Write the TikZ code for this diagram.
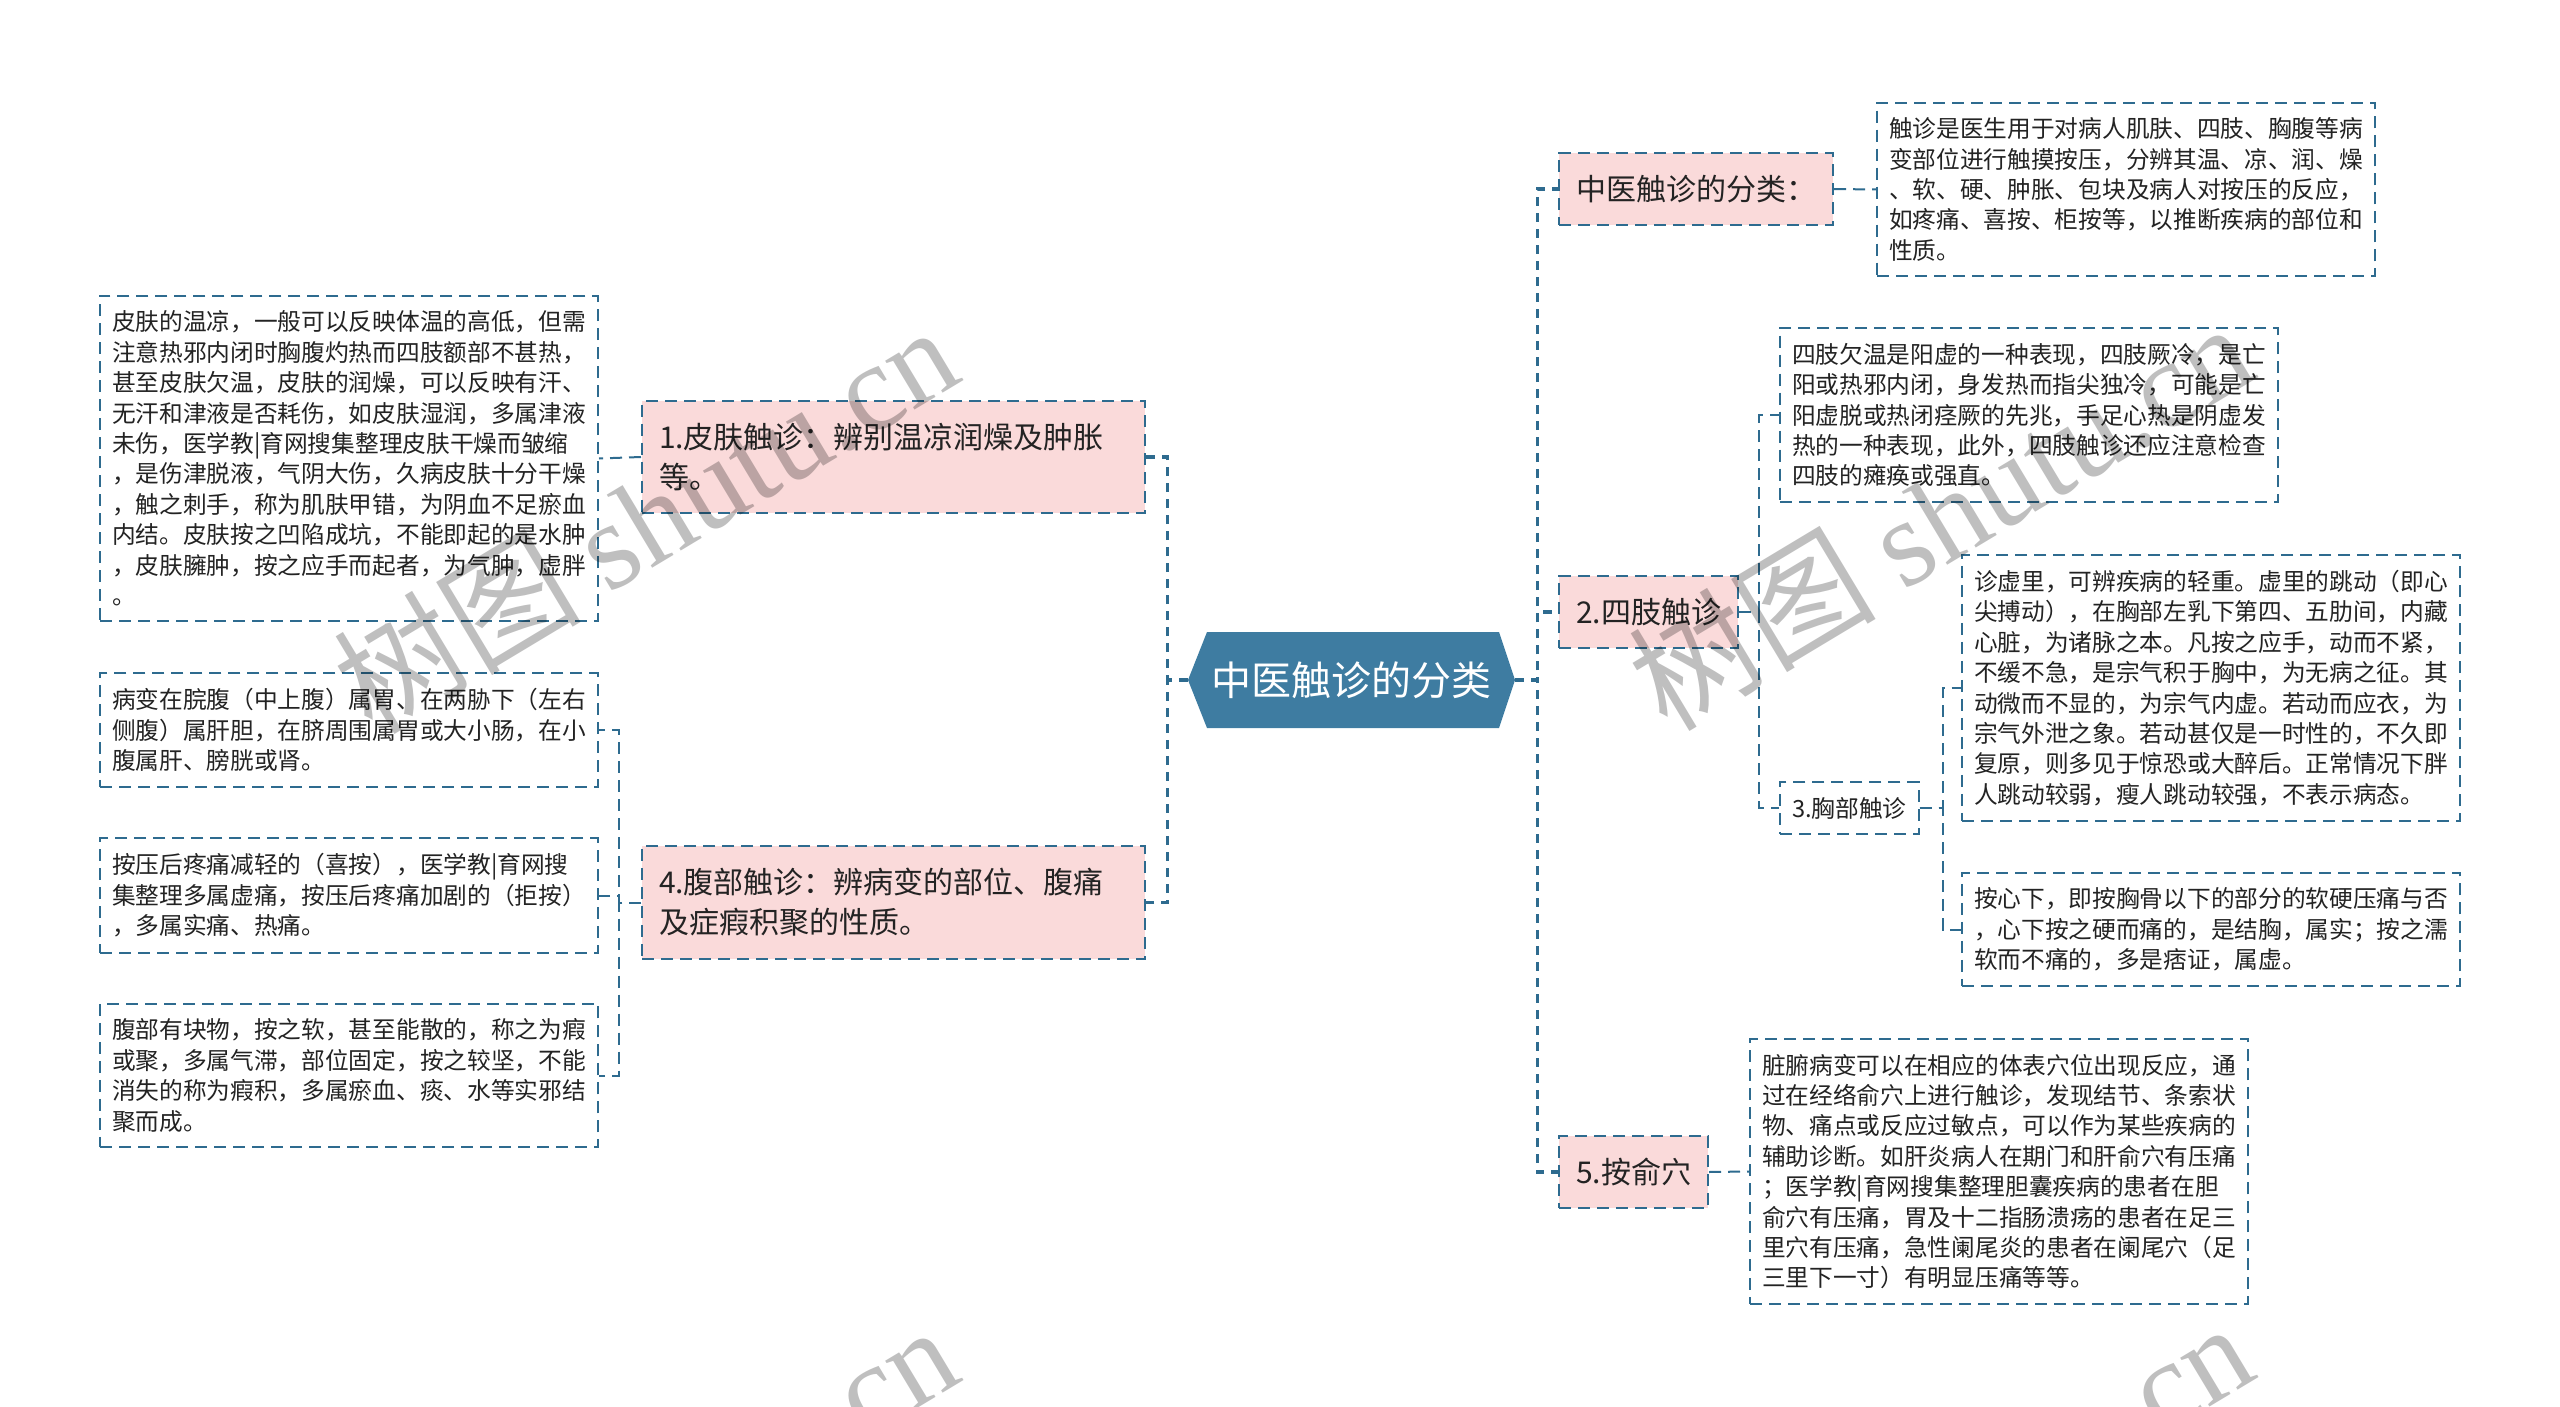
\documentclass[tikz,border=0pt]{standalone}
\usepackage{fontspec}
\setmainfont{Noto Sans CJK SC}
\newfontfamily\wmlatin{Liberation Serif}
\usetikzlibrary{positioning}
\definecolor{linkblue}{RGB}{46,107,143}
\definecolor{rootblue}{RGB}{62,124,161}
\definecolor{branchpink}{RGB}{250,218,218}
\definecolor{inkgray}{RGB}{35,35,35}
\newcommand{\wmark}{树图 {\wmlatin shutu.cn}}

\begin{document}
\begin{tikzpicture}[x=0.5pt,y=-0.5pt,
    note/.style={draw=linkblue,line width=1pt,dash pattern=on 6pt off 3.5pt,fill=white,text=inkgray,
        font=\fontsize{11.85}{15.2}\selectfont,text width=237pt,align=left,inner xsep=6pt,inner ysep=7.6pt},
    tag/.style={draw=linkblue,line width=1pt,dash pattern=on 6pt off 3.5pt,fill=white,text=inkgray,
        font=\fontsize{11.85}{15.2}\selectfont,inner xsep=6pt,inner ysep=7.6pt},
    branch/.style={draw=linkblue,line width=1pt,dash pattern=on 6pt off 3.5pt,fill=branchpink,text=inkgray,
        font=\fontsize{15}{20}\selectfont,align=left,inner xsep=8.5pt,inner ysep=11pt},
    hexroot/.style={minimum width=163.5pt,minimum height=48pt,inner sep=0pt,text=white,
        font=\fontsize{20}{24}\selectfont,
        path picture={\fill[rootblue] (path picture bounding box.west)
            -- ([xshift=9.5pt]path picture bounding box.north west)
            -- ([xshift=-8pt]path picture bounding box.north east)
            -- (path picture bounding box.east)
            -- ([xshift=-8pt]path picture bounding box.south east)
            -- ([xshift=9.5pt]path picture bounding box.south west) -- cycle;}},
    trunk/.style={draw=linkblue,line width=1.7pt,dash pattern=on 4.5pt off 3.5pt},
    twig/.style={draw=linkblue,line width=1pt,dash pattern=on 6pt off 3.5pt},
    wm/.style={rotate=31,text=black,opacity=0.25,font=\fontsize{62}{62}\selectfont}
]
\useasboundingbox (0,0) rectangle (2560,1407);

\node[hexroot] (root) at (1351.5,680) {中医触诊的分类};

\node[branch,text width=234.5pt] (skin) at (893.5,457) {1.皮肤触诊：辨别温凉润燥及肿胀\\等。};
\node[branch,text width=234.5pt] (belly) at (893.5,902.5) {4.腹部触诊：辨病变的部位、腹痛\\及症瘕积聚的性质。};

\node[note,anchor=east] (skinnote) at (599,458.5) {皮肤的温凉，一般可以反映体温的高低，但需\\注意热邪内闭时胸腹灼热而四肢额部不甚热，\\甚至皮肤欠温，皮肤的润燥，可以反映有汗、\\无汗和津液是否耗伤，如皮肤湿润，多属津液\\未伤，医学教|育网搜集整理皮肤干燥而皱缩\\，是伤津脱液，气阴大伤，久病皮肤十分干燥\\，触之刺手，称为肌肤甲错，为阴血不足瘀血\\内结。皮肤按之凹陷成坑，不能即起的是水肿\\，皮肤臃肿，按之应手而起者，为气肿，虚胖\\。};
\node[note,anchor=east] (bellyzone) at (599,730) {病变在脘腹（中上腹）属胃、在两胁下（左右\\侧腹）属肝胆，在脐周围属胃或大小肠，在小\\腹属肝、膀胱或肾。};
\node[note,anchor=east] (bellypress) at (599,895.5) {按压后疼痛减轻的（喜按），医学教|育网搜\\集整理多属虚痛，按压后疼痛加剧的（拒按）\\，多属实痛、热痛。};
\node[note,anchor=east] (bellymass) at (599,1075.5) {腹部有块物，按之软，甚至能散的，称之为瘕\\或聚，多属气滞，部位固定，按之较坚，不能\\消失的称为瘕积，多属瘀血、痰、水等实邪结\\聚而成。};

\node[branch,anchor=west] (kinds) at (1558,189) {中医触诊的分类：};
\node[branch,anchor=west] (limbs) at (1558,612) {2.四肢触诊};
\node[branch,anchor=west] (points) at (1558,1172) {5.按俞穴};
\node[tag,anchor=west] (chest) at (1779,808) {3.胸部触诊};

\node[note,anchor=west] (kindsnote) at (1876,189.5) {触诊是医生用于对病人肌肤、四肢、胸腹等病\\变部位进行触摸按压，分辨其温、凉、润、燥\\、软、硬、肿胀、包块及病人对按压的反应，\\如疼痛、喜按、柜按等，以推断疾病的部位和\\性质。};
\node[note,anchor=west] (limbsnote) at (1779,415) {四肢欠温是阳虚的一种表现，四肢厥冷，是亡\\阳或热邪内闭，身发热而指尖独冷，可能是亡\\阳虚脱或热闭痉厥的先兆，手足心热是阴虚发\\热的一种表现，此外，四肢触诊还应注意检查\\四肢的瘫痪或强直。};
\node[note,anchor=west] (heartnote) at (1961,688) {诊虚里，可辨疾病的轻重。虚里的跳动（即心\\尖搏动），在胸部左乳下第四、五肋间，内藏\\心脏，为诸脉之本。凡按之应手，动而不紧，\\不缓不急，是宗气积于胸中，为无病之征。其\\动微而不显的，为宗气内虚。若动而应衣，为\\宗气外泄之象。若动甚仅是一时性的，不久即\\复原，则多见于惊恐或大醉后。正常情况下胖\\人跳动较弱，瘦人跳动较强，不表示病态。};
\node[note,anchor=west] (epinote) at (1961,929.5) {按心下，即按胸骨以下的部分的软硬压痛与否\\，心下按之硬而痛的，是结胸，属实；按之濡\\软而不痛的，多是痞证，属虚。};
\node[note,anchor=west] (pointsnote) at (1749,1171.5) {脏腑病变可以在相应的体表穴位出现反应，通\\过在经络俞穴上进行触诊，发现结节、条索状\\物、痛点或反应过敏点，可以作为某些疾病的\\辅助诊断。如肝炎病人在期门和肝俞穴有压痛\\；医学教|育网搜集整理胆囊疾病的患者在胆\\俞穴有压痛，胃及十二指肠溃疡的患者在足三\\里穴有压痛，急性阑尾炎的患者在阑尾穴（足\\三里下一寸）有明显压痛等等。};

\foreach \kid in {skin,belly}
    \draw[trunk] (root.west) -- ++(-20,0) |- (\kid.east);
\foreach \kid in {kinds,limbs,points}
    \draw[trunk] (root.east) -- ++(22,0) |- (\kid.west);
\draw[twig] (skin.west) -- (skinnote.east);
\foreach \kid in {bellyzone,bellypress,bellymass}
    \draw[twig] (belly.west) -- ++(-22,0) |- (\kid.east);
\draw[twig] (kinds.east) -- (kindsnote.west);
\foreach \kid in {limbsnote,chest}
    \draw[twig] (limbs.east) -- ++(20,0) |- (\kid.west);
\foreach \kid in {heartnote,epinote}
    \draw[twig] (chest.east) -- ++(23,0) |- (\kid.west);
\draw[twig] (points.east) -- (pointsnote.west);

\begin{scope}
\clip (0,0) rectangle (2560,1407);
\node[wm] (wmA) at (645,518) {\wmark};
\node[wm] (wmB) at (1940,515) {\wmark};
\node[wm] (wmC) at (645,1518) {\wmark};
\node[wm] (wmD) at (1940,1515) {\wmark};
\end{scope}
\end{tikzpicture}
\end{document}
